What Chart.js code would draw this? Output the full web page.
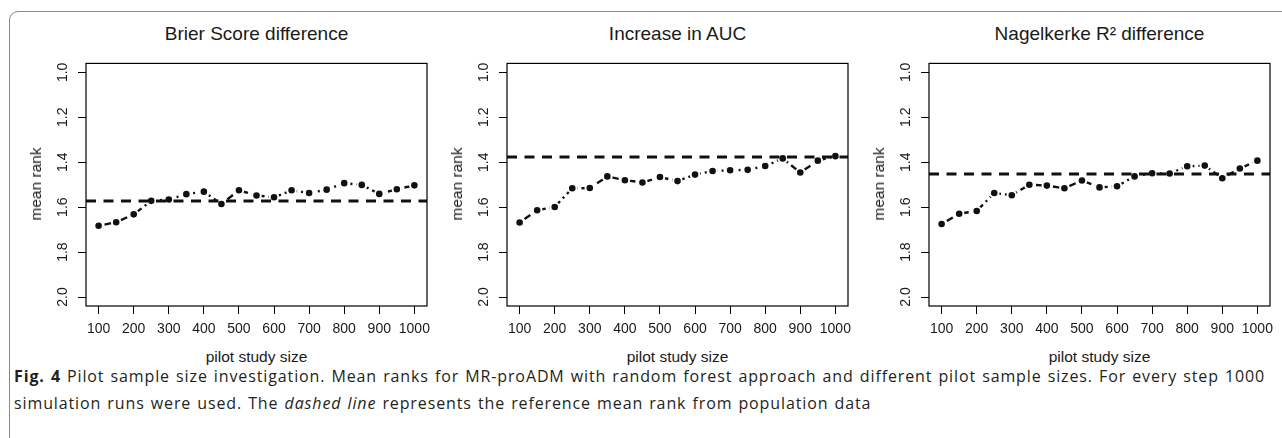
<!DOCTYPE html>
<html>
<head>
<meta charset="utf-8">
<script src="https://cdn.jsdelivr.net/npm/chart.js@4.4.0/dist/chart.umd.min.js"></script>
<style>
  html, body { margin: 0; background: #fff; width: 1282px; height: 438px; overflow: hidden; }
  body { position: relative; }
  .frame { position: absolute; left: 9px; top: 11px; width: 1290px; height: 440px; border: 1.5px solid #8a8a8a; border-radius: 9px; box-sizing: border-box; }
  .panel { position: absolute; top: 50px; }
  .txt { position: absolute; font-family: "Liberation Sans", Arial, sans-serif; color: #1a1a1a; white-space: nowrap; transform: translate(-50%, -50%); }
  .title { font-size: 19px; }
  .axis { font-size: 15.5px; }
  .ylab { transform: translate(-50%, -50%) rotate(-90deg); }
  .caption { position: absolute; left: 14px; font-family: "Open Sans", sans-serif; font-size: 16px; line-height: 22px; color: #231f20; white-space: nowrap; }
</style>
</head>
<body>
<div class="frame"></div>

<script>
// pilot study sizes (x) and mean ranks
const sizes = [100, 150, 200, 250, 300, 350, 400, 450, 500, 550, 600, 650, 700, 750, 800, 850, 900, 950, 1000];
const brierRanks = [1.683, 1.667, 1.632, 1.572, 1.566, 1.542, 1.531, 1.586, 1.525, 1.548, 1.556, 1.525, 1.537, 1.522, 1.493, 1.501, 1.541, 1.520, 1.503];
const aucRanks = [1.668, 1.614, 1.599, 1.516, 1.515, 1.463, 1.480, 1.490, 1.466, 1.484, 1.455, 1.439, 1.436, 1.434, 1.417, 1.383, 1.446, 1.393, 1.373];
const r2Ranks = [1.675, 1.629, 1.617, 1.537, 1.547, 1.500, 1.504, 1.516, 1.481, 1.512, 1.507, 1.463, 1.449, 1.450, 1.418, 1.415, 1.471, 1.428, 1.393];
// reference mean rank from population data (dashed line)
const refRanks = [1.573, 1.377, 1.452];
const titles = ['Brier Score difference', 'Increase in AUC', 'Nagelkerke R\u00B2 difference'];

const xTicks = [100, 200, 300, 400, 500, 600, 700, 800, 900, 1000];
const yTicks = [1.0, 1.2, 1.4, 1.6, 1.8, 2.0];
const xMin = 64, xMax = 1036;   // R style 4% padding
const yMin = 0.96, yMax = 2.04;

const series = [brierRanks, aucRanks, r2Ranks];
const boxLefts = [86, 507, 929];
const boxWidth = 341;
const yAxisWidth = 60;

// box round the plot region, like R's box()
const boxPlugin = {
    id: 'plotBox',
    afterDraw(chart) {
        const a = chart.chartArea;
        const ctx = chart.ctx;
        ctx.save();
        ctx.strokeStyle = '#000';
        ctx.lineWidth = 1.2;
        ctx.strokeRect(a.left, a.top, a.right - a.left, a.bottom - a.top);
        ctx.restore();
    }
};

function addText(cls, text, x, y) {
    const d = document.createElement('div');
    d.className = 'txt ' + cls;
    d.textContent = text;
    d.style.left = x + 'px';
    d.style.top = y + 'px';
    document.body.appendChild(d);
}

series.forEach((ranks, i) => {
    const holder = document.createElement('div');
    holder.className = 'panel';
    holder.style.left = (boxLefts[i] - yAxisWidth) + 'px';
    const canvas = document.createElement('canvas');
    canvas.width = yAxisWidth + boxWidth + 12;
    canvas.height = 296;
    holder.appendChild(canvas);
    document.body.appendChild(holder);

    const centerX = boxLefts[i] + boxWidth / 2;
    addText('title', titles[i], centerX, 33.5);
    addText('axis', 'pilot study size', centerX, 357);
    addText('axis ylab', 'mean rank', boxLefts[i] - 50, 183.5);

    new Chart(canvas.getContext('2d'), {
        type: 'line',
        data: {
            datasets: [{
                data: sizes.map((s, k) => ({ x: s, y: ranks[k] })),
                borderColor: '#111',
                borderWidth: 2.4,
                borderDash: [2, 4, 7, 4],
                pointRadius: 4.3,
                pointBackgroundColor: '#111',
                pointBorderColor: '#fff',
                pointBorderWidth: 2,
                fill: false,
                order: 1
            }, {
                data: [{ x: xMin, y: refRanks[i] }, { x: xMax, y: refRanks[i] }],
                borderColor: '#111',
                borderWidth: 3,
                borderDash: [10, 7.5],
                pointRadius: 0,
                fill: false,
                order: 0
            }]
        },
        options: {
            responsive: false,
            animation: false,
            layout: { padding: { top: 11, right: 12, left: 0, bottom: 0 } },
            plugins: { legend: { display: false }, tooltip: { enabled: false } },
            scales: {
                x: {
                    type: 'linear',
                    min: xMin,
                    max: xMax,
                    afterBuildTicks: s => { s.ticks = xTicks.map(v => ({ value: v })); },
                    afterFit: s => { s.height = 40; },
                    border: { display: false },
                    grid: { drawOnChartArea: false, drawTicks: true, tickLength: 8, color: '#000' },
                    ticks: {
                        autoSkip: false, maxRotation: 0, minRotation: 0, padding: 7,
                        color: '#1a1a1a',
                        font: { family: 'Liberation Sans', size: 14 },
                        callback: v => String(v)
                    }
                },
                y: {
                    type: 'linear',
                    reverse: true,
                    min: yMin,
                    max: yMax,
                    afterBuildTicks: s => { s.ticks = yTicks.map(v => ({ value: v })); },
                    afterFit: s => { s.width = yAxisWidth; },
                    border: { display: false },
                    grid: { drawOnChartArea: false, drawTicks: true, tickLength: 8, color: '#000' },
                    ticks: {
                        minRotation: 90, maxRotation: 90, crossAlign: 'center', padding: 5,
                        color: '#1a1a1a',
                        font: { family: 'Liberation Sans', size: 14 },
                        callback: v => Number(v).toFixed(1)
                    }
                }
            }
        },
        plugins: [boxPlugin]
    });
});

// figure caption
const line1 = document.createElement('div');
line1.className = 'caption';
line1.style.top = '365px';
line1.innerHTML = '<b>Fig. 4</b> Pilot sample size investigation. Mean ranks for MR-proADM with random forest approach and different pilot sample sizes. For every step 1000';
document.body.appendChild(line1);
const line2 = document.createElement('div');
line2.className = 'caption';
line2.style.top = '392px';
line2.innerHTML = 'simulation runs were used. The <i>dashed line</i> represents the reference mean rank from population data';
document.body.appendChild(line2);

// spread the caption so line 1 ends where the printed line ends
const extra = 1251 - line1.offsetWidth;
const nChars = line1.textContent.length;
const nSpaces = line1.textContent.split(' ').length - 1;
const letterSp = (extra * 0.85 / nChars).toFixed(3) + 'px';
const wordSp = (extra * 0.15 / nSpaces).toFixed(3) + 'px';
[line1, line2].forEach(el => {
    el.style.letterSpacing = letterSp;
    el.style.wordSpacing = wordSp;
});
</script>
</body>
</html>
